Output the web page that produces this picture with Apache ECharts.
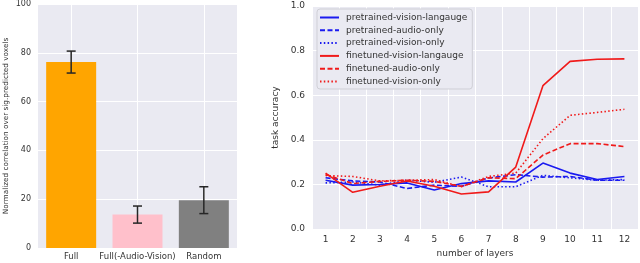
<!DOCTYPE html>
<html>
<head>
<meta charset="utf-8">
<script src="https://cdn.jsdelivr.net/npm/echarts@6/dist/echarts.min.js"></script>
<style>
html,body{margin:0;padding:0;background:#fff;}
#c{width:640px;height:263px;}
</style>
</head>
<body>
<div id="c"></div>
<script>
// Left panel data
var barCategories = ['Full', 'Full(-Audio-Vision)', 'Random'];
var barValues = [76.2, 13.7, 19.6];
var barErrors = [4.5, 3.5, 5.5];
var barColors = ['#FFA500', '#FFC0CB', '#808080'];
var barTicks = [0, 20, 40, 60, 80, 100];

// Right panel data
var layers = ['1','2','3','4','5','6','7','8','9','10','11','12'];
var pretrainedVisionLanguage = [0.219,0.197,0.200,0.207,0.175,0.204,0.216,0.211,0.296,0.251,0.222,0.236];
var pretrainedAudioOnly      = [0.230,0.216,0.211,0.182,0.197,0.192,0.229,0.244,0.233,0.236,0.219,0.219];
var pretrainedVisionOnly     = [0.207,0.211,0.197,0.219,0.210,0.233,0.190,0.190,0.241,0.230,0.219,0.222];
var finetunedVisionLanguage  = [0.251,0.165,0.192,0.216,0.192,0.157,0.167,0.278,0.643,0.752,0.761,0.763];
var finetunedAudioOnly       = [0.245,0.204,0.214,0.219,0.214,0.192,0.230,0.226,0.332,0.383,0.383,0.370];
var finetunedVisionOnly      = [0.240,0.236,0.216,0.219,0.222,0.190,0.236,0.251,0.405,0.510,0.523,0.537];
var seriesNames = ['pretrained-vision-langauge','pretrained-audio-only','pretrained-vision-only',
                   'finetuned-vision-langauge','finetuned-audio-only','finetuned-vision-only'];

var FONT = 'DejaVu Sans';
var TXT = '#333333';
var BG = '#EAEAF2';
var BLUE = '#1a1af0';
var RED = '#f01a1a';
var DASH = [5, 2.5];
var DOT = [1.5, 2.3];

// hidden helper axis to put vertical grid lines at bar centers
var helperCats = [];
for (var i = 0; i < barCategories.length * 2 + 1; i++) helperCats.push('h' + i);

var chart = echarts.init(document.getElementById('c'), null, {renderer: 'canvas'});

var lineDefs = [
  [pretrainedVisionLanguage, BLUE, 'solid'],
  [pretrainedAudioOnly, BLUE, DASH],
  [pretrainedVisionOnly, BLUE, DOT],
  [finetunedVisionLanguage, RED, 'solid'],
  [finetunedAudioOnly, RED, DASH],
  [finetunedVisionOnly, RED, DOT]
];

var series = [];
series.push({
  type: 'bar',
  xAxisIndex: 0, yAxisIndex: 0,
  barWidth: 50,
  z: 2,
  data: barValues.map(function (v, i) { return {value: v, itemStyle: {color: barColors[i]}}; })
});
series.push({
  type: 'custom',
  xAxisIndex: 0, yAxisIndex: 0,
  z: 5,
  data: barValues.map(function (v, i) { return [i, v, barErrors[i]]; }),
  encode: {x: 0, y: 1},
  renderItem: function (params, api) {
    var x = api.value(0), y = api.value(1), e = api.value(2);
    var top = api.coord([x, y + e]);
    var bot = api.coord([x, y - e]);
    var hw = 4.5;
    var st = {stroke: '#262626', lineWidth: 1.5};
    return {
      type: 'group',
      children: [
        {type: 'line', shape: {x1: top[0], y1: top[1], x2: bot[0], y2: bot[1]}, style: st},
        {type: 'line', shape: {x1: top[0] - hw, y1: top[1], x2: top[0] + hw, y2: top[1]}, style: st},
        {type: 'line', shape: {x1: bot[0] - hw, y1: bot[1], x2: bot[0] + hw, y2: bot[1]}, style: st}
      ]
    };
  }
});
lineDefs.forEach(function (d, i) {
  series.push({
    name: seriesNames[i],
    type: 'line',
    xAxisIndex: 2, yAxisIndex: 1,
    data: d[0],
    symbol: 'none',
    showSymbol: false,
    lineStyle: {color: d[1], width: 1.6, type: d[2]},
    itemStyle: {color: d[1]},
    z: 3
  });
});

var option = {
  backgroundColor: '#ffffff',
  animation: false,
  textStyle: {fontFamily: FONT},
  grid: [
    {left: 38, top: 4, width: 199, height: 244, show: true, backgroundColor: BG, borderWidth: 0},
    {left: 312, top: 6, width: 326, height: 227, show: true, backgroundColor: BG, borderWidth: 0}
  ],
  legend: {
    orient: 'vertical',
    left: 317, top: 9,
    padding: [4, 5, 3, 2],
    itemWidth: 19, itemHeight: 8, itemGap: 3.8,
    backgroundColor: BG,
    borderColor: '#cfcfd6', borderWidth: 1, borderRadius: 3,
    itemStyle: {color: 'rgba(0,0,0,0)', borderWidth: 0, opacity: 0},
    textStyle: {fontFamily: FONT, fontSize: 9, color: TXT, padding: [0, 0, 0, 2]},
    data: seriesNames
  },
  xAxis: [
    {
      type: 'category', gridIndex: 0, data: barCategories,
      axisLine: {show: false}, axisTick: {show: false},
      splitLine: {show: false},
      axisLabel: {fontFamily: FONT, fontSize: 8.5, color: TXT, margin: 4, interval: 0, hideOverlap: false}
    },
    {
      type: 'category', gridIndex: 0, data: helperCats, boundaryGap: false,
      axisLine: {show: false}, axisTick: {show: false}, axisLabel: {show: false},
      splitLine: {show: true, lineStyle: {color: '#ffffff', width: 1},
        interval: function (idx) { return idx % 2 === 1; }}
    },
    {
      type: 'category', gridIndex: 1, data: layers, boundaryGap: true,
      axisLine: {show: false}, axisTick: {show: false},
      splitLine: {show: true, interval: 0, lineStyle: {color: '#ffffff', width: 1}},
      axisLabel: {fontFamily: FONT, fontSize: 9, color: TXT, margin: 6, interval: 0},
      name: 'number of layers', nameLocation: 'middle', nameGap: 16,
      nameTextStyle: {fontFamily: FONT, fontSize: 9, color: TXT}
    }
  ],
  yAxis: [
    {
      type: 'value', gridIndex: 0, min: barTicks[0], max: barTicks[barTicks.length - 1], interval: 20,
      axisLine: {show: false}, axisTick: {show: false},
      splitLine: {show: true, lineStyle: {color: '#ffffff', width: 1}},
      axisLabel: {fontFamily: FONT, fontSize: 8, color: TXT, margin: 7},
      name: 'Normalized correlation over sig.predicted voxels', nameLocation: 'middle', nameGap: 28,
      nameTextStyle: {fontFamily: FONT, fontSize: 7.3, color: TXT}
    },
    {
      type: 'value', gridIndex: 1, min: 0, max: 1, interval: 0.2,
      axisLine: {show: false}, axisTick: {show: false},
      splitLine: {show: true, lineStyle: {color: '#ffffff', width: 1}},
      axisLabel: {fontFamily: FONT, fontSize: 9, color: TXT, margin: 7,
        formatter: function (v) { return v.toFixed(1); }},
      name: 'task accuracy', nameLocation: 'middle', nameGap: 26,
      nameTextStyle: {fontFamily: FONT, fontSize: 9, color: TXT}
    }
  ],
  series: series
};
chart.setOption(option);
</script>
</body>
</html>
